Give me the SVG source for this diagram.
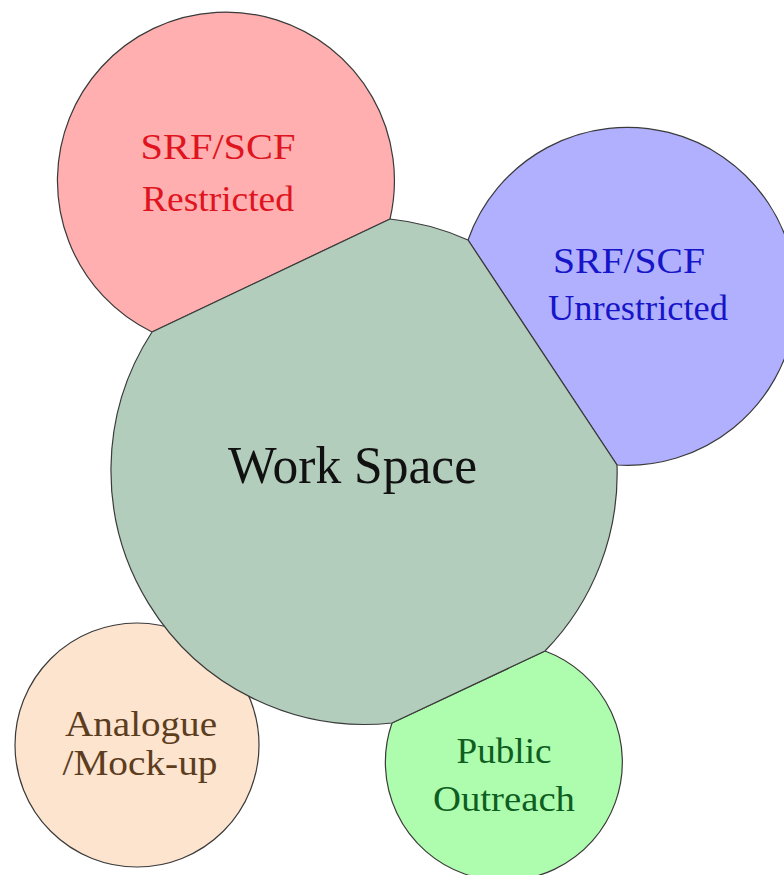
<svg xmlns="http://www.w3.org/2000/svg" width="784" height="875" viewBox="0 0 784 875">
<style>
.shape{stroke:#3a3a3a;stroke-width:1.2}
.lbl{font-family:"Liberation Serif","Times New Roman",serif;font-size:35px;text-anchor:middle}
</style>
<rect width="784" height="875" fill="#ffffff"/>
<g id="srf-restricted">
<path class="shape" d="M152,332 L390,219 A168.5,168.5 0 1 0 152,332 Z" fill="#FFAFAF"/>
<text class="lbl" x="218" y="159" fill="#E0141E" textLength="155" lengthAdjust="spacingAndGlyphs">SRF/SCF</text>
<text class="lbl" x="218" y="211" fill="#E0141E" textLength="152" lengthAdjust="spacingAndGlyphs">Restricted</text>
</g>
<g id="srf-unrestricted">
<path class="shape" d="M468,240 A169,169 0 1 1 617,465 Z" fill="#B0B0FF"/>
<text class="lbl" x="629" y="273" fill="#1616C8" textLength="152" lengthAdjust="spacingAndGlyphs">SRF/SCF</text>
<text class="lbl" x="638" y="320" fill="#1616C8" textLength="180" lengthAdjust="spacingAndGlyphs">Unrestricted</text>
</g>
<g id="public-outreach">
<path class="shape" d="M392,723 L545,651 A118.5,118.5 0 1 1 392,723 Z" fill="#AEFCAE"/>
<text class="lbl" x="504" y="763" fill="#0E5E22" textLength="95" lengthAdjust="spacingAndGlyphs">Public</text>
<text class="lbl" x="504" y="811" fill="#0E5E22" textLength="142" lengthAdjust="spacingAndGlyphs">Outreach</text>
</g>
<g id="analogue">
<circle class="shape" cx="137" cy="745" r="122" fill="#FDE4CF"/>
<text class="lbl" x="141" y="736" fill="#5C3D1E" textLength="152" lengthAdjust="spacingAndGlyphs">Analogue</text>
<text class="lbl" x="140" y="775" fill="#5C3D1E" textLength="155" lengthAdjust="spacingAndGlyphs">/Mock-up</text>
</g>
<g id="work-space">
<path class="shape" d="M152,332 L390,219 A254,254 0 0 1 468,240 L617,465 A254,254 0 0 1 545,651 L392,723 A254,254 0 0 1 152,332 Z" fill="#B2CDBC"/>
<text class="lbl" x="352.5" y="483" fill="#111111" style="font-size:52px" textLength="249" lengthAdjust="spacingAndGlyphs">Work Space</text>
</g>
<g id="connectors"></g>
</svg>
